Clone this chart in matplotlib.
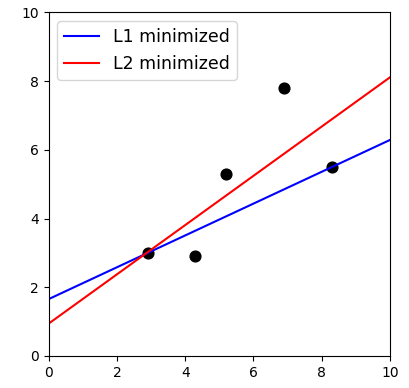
import matplotlib.pyplot as plt
import numpy as np

x_pts = np.array([2.9, 4.3, 5.2, 6.9, 8.3])
y_pts = np.array([3.0, 2.9, 5.3, 7.8, 5.5])

# L1 fit passes through the 1st and 5th points
l1_slope = (y_pts[4] - y_pts[0]) / (x_pts[4] - x_pts[0])
l1_icept = y_pts[0] - l1_slope * x_pts[0]

# ordinary least squares
l2_slope, l2_icept = np.polyfit(x_pts, y_pts, 1)

xs = np.array([0, 10])

fig = plt.figure(figsize=(4.1, 3.88), dpi=100)
ax = fig.add_axes([0.119, 0.0825, 0.832, 0.8855])
ax.scatter(x_pts, y_pts, color='black', s=60, zorder=1)
ax.plot(xs, l1_icept + l1_slope * xs, color='blue', label='L1 minimized', zorder=2)
ax.plot(xs, l2_icept + l2_slope * xs, color='red', label='L2 minimized', zorder=2)
ax.set_xlim(0, 10)
ax.set_ylim(0, 10)
ax.legend(loc='upper left', fontsize=12.5)
fig.savefig('out.png')
